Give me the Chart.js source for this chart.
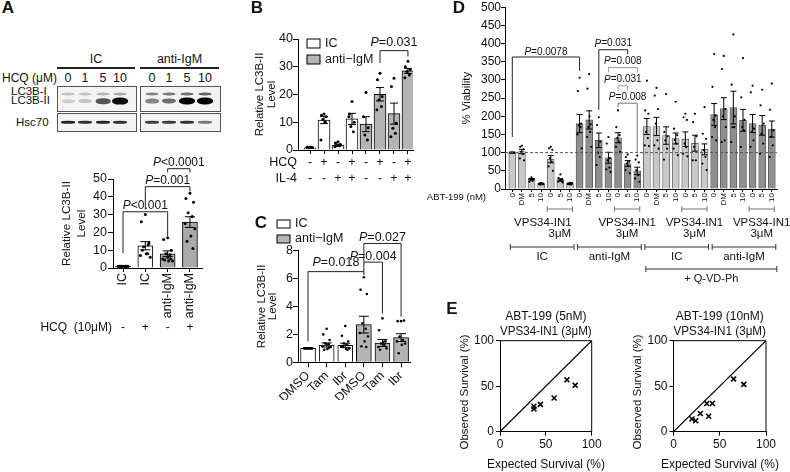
<!DOCTYPE html>
<html>
<head>
<meta charset="utf-8">
<script src="https://cdn.jsdelivr.net/npm/chart.js@4.4.1/dist/chart.umd.min.js"></script>
<style>
  body { margin: 0; background: #fff; }
  #fig { position: relative; width: 790px; height: 472px; overflow: hidden; font-family: 'Liberation Sans', Arial, sans-serif; color: #111; }
  canvas { position: absolute; }
  .lbl { position: absolute; font-size: 12px; white-space: nowrap; transform: translate(-50%, -50%); }
  .lft { position: absolute; font-size: 12px; white-space: nowrap; transform: translate(0, -50%); }
  .letter { position: absolute; font-weight: bold; font-size: 17px; transform: translate(-50%, -50%); }
  .blot { position: absolute; border: 1px solid #555; background: #f3f3f3; }
  .band { position: absolute; border-radius: 45%; filter: blur(0.7px); transform: translate(-50%, -50%); }
  .rule { position: absolute; height: 2px; background: #222; }
</style>
</head>
<body>
<div id="fig">
  <canvas id="cA" width="230" height="200" style="left:0;top:140px"></canvas>
  <canvas id="cB" width="190" height="190" style="left:230px;top:0"></canvas>
  <canvas id="cC" width="190" height="200" style="left:230px;top:200px"></canvas>
  <canvas id="cD" width="370" height="290" style="left:420px;top:0"></canvas>
  <canvas id="cE1" width="185" height="172" style="left:420px;top:300px"></canvas>
  <canvas id="cE2" width="190" height="172" style="left:600px;top:300px"></canvas>
</div>
<script>
// ---- panel A
const aLabels = ['IC', 'IC', 'anti-IgM', 'anti-IgM']
const aHcq = ['-', '+', '-', '+']
const aMeans = [0.9, 12.5, 8, 25.8]
const aSem = [0.1, 2.3, 1.6, 3]
const aDots = [
  [1, 1, 1, 1, 1, 1, 1, 1, 1, 1],
  [30, 26, 14, 12, 8, 7, 6, 8, 10, 13],
  [17, 16, 10, 8, 7.5, 5, 4, 4, 4.5, 5, 6],
  [42, 39, 37, 31, 29, 25, 22, 18, 15, 11]
]
const aBrackets = [
  { a: 0, b: 2, y: 31.6, ya: 8.4, yb: 18, text: 'P<0.001' },
  { a: 1, b: 3, y: 45.7, ya: 32.8, yb: 43, text: 'P=0.001' },
  { a: 2, b: 3, y: 55.8, ya: 53.7, yb: 53.7, text: 'P<0.0001' }
]
const blotLanes = ['0', '1', '5', '10']
const bandI = [[0.2, 0.2, 0.25, 0.3], [0.45, 0.5, 0.55, 0.6]]
const bandII = [[0.15, 0.2, 0.65, 0.95], [0.45, 0.55, 1, 1]]
const bandHsc = [[0.85, 0.8, 0.85, 0.8], [0.75, 0.75, 0.8, 0.5]]

// ---- panel B
const bLabels = ['IC', 'IC', 'IC', 'IC', 'anti-IgM', 'anti-IgM', 'anti-IgM', 'anti-IgM']
const bHcq = ['-', '+', '-', '+', '-', '+', '-', '+']
const bIl4 = ['-', '-', '+', '+', '-', '-', '+', '+']
const bMeans = [0.8, 10.8, 1.8, 11.2, 9.3, 20.1, 13.1, 28.5]
const bSem = [0.15, 1.3, 0.3, 2, 2.7, 2.4, 3.8, 0.9]
const bDots = [
  [1, 1, 0.9, 0.8, 0.9, 1],
  [13, 12.5, 12, 11, 10, 3.6],
  [3, 2.5, 2, 1.5, 1.5, 1.2],
  [17.5, 13, 10, 8.5, 6.6, 12],
  [20.7, 12, 8, 5.4, 3.6],
  [27.7, 25.3, 19.3, 18, 15.7, 14.5],
  [25.9, 22.9, 9.6, 7.8, 6, 4.8],
  [32, 30, 29, 28.3, 27, 26]
]
const bBrackets = [{ a: 5, b: 7, y: 35.8, ya: 31.3, yb: 33.7, text: 'P=0.031', dy: 8 }]

// ---- panel C
const cLabels = ['DMSO', 'Tam', 'Ibr', 'DMSO', 'Tam', 'Ibr']
const cMeans = [1.0, 1.24, 1.22, 2.7, 1.38, 1.77]
const cSem = [0.02, 0.15, 0.15, 0.6, 0.25, 0.28]
const cDots = [
  [1, 1, 1, 1, 1, 1, 1, 1, 1, 1],
  [2.4, 2.0, 1.6, 1.35, 1.3, 1.15, 1.1, 0.95, 0.9, 1.05],
  [2.6, 1.9, 1.5, 1.35, 1.25, 1.1, 1.0, 0.95, 1.1, 0.9],
  [6.1, 5.2, 4.9, 2.8, 2.4, 2.1, 1.85, 1.5, 1.15, 1.1],
  [3.15, 2.3, 1.5, 1.35, 1.25, 1.1, 1.0, 1.45, 0.9],
  [2.95, 2.95, 3.0, 1.85, 1.6, 1.5, 1.35, 1.25, 0.65]
]
const cBrackets = [
  { a: 0, b: 3, y: 6.5, ya: 1.5, yb: 6.25, text: 'P=0.018', dy: 9 },
  { a: 3, b: 4, y: 7.18, ya: 6.5, yb: 3.5, text: 'P=0.004' },
  { a: 3, b: 5, y: 8.52, ya: 7.2, yb: 3.27, text: 'P=0.027' }
]

// ---- panel D
const dLabels = ['0', 'DM', '5', '10', '0', '5', '10', '0', 'DM', '5', '10', '0', '5', '10',
  '0', 'DM', '5', '10', '0', '5', '10', '0', 'DM', '5', '10', '0', '5', '10']
const dMeans = [100, 103, 27, 15, 82, 25, 15, 180, 190, 134, 86, 141, 70, 50,
  172, 172, 147, 139, 137, 126, 109, 205, 221, 224, 189, 180, 175, 165]
const dSem = [0, 6, 2, 1, 10, 3, 1, 25, 25, 20, 15, 14, 8, 10,
  22, 25, 24, 15, 20, 22, 15, 30, 30, 45, 30, 25, 27, 22]
const dDots = [
  [100, 100, 100, 100, 100, 100, 100],
  [119, 116, 109, 102, 96, 84, 79],
  [32, 28, 26, 25, 22, 20, 27],
  [16, 14, 13, 12, 15, 14, 13],
  [116, 112, 108, 85, 75, 62, 50],
  [40, 30, 27, 24, 22, 20, 18],
  [17, 15, 14, 13, 12, 14, 16],
  [306, 269, 180, 175, 170, 150, 112],
  [316, 276, 178, 170, 157, 143, 116, 200],
  [197, 176, 130, 100, 88, 66],
  [143, 125, 85, 79, 59, 54, 47],
  [216, 170, 148, 140, 129, 116, 102],
  [95, 88, 75, 70, 63, 52, 43],
  [92, 81, 73, 52, 38, 29, 20],
  [298, 216, 207, 157, 140, 120, 118],
  [278, 257, 220, 180, 134, 120, 111],
  [261, 157, 145, 134, 111, 81],
  [240, 166, 148, 135, 125, 111, 93],
  [207, 197, 190, 125, 115, 97, 90],
  [207, 184, 145, 116, 79, 79],
  [225, 152, 138, 107, 88, 70, 52],
  [371, 281, 202, 190, 170, 143, 134],
  [366, 330, 220, 200, 134, 129, 170],
  [425, 287, 200, 170, 170, 129],
  [360, 252, 190, 170, 161, 116],
  [284, 266, 166, 157, 134, 116],
  [273, 230, 180, 152, 125, 97],
  [290, 218, 161, 143, 120, 88]
]
const dBrackets = [
  { a: 0, b: 7, y: 363, ya: 143, yb: 325, text: 'P=0.0078', dy: 5 },
  { a: 9, b: 12, y: 383, ya: 218, yb: 371, text: 'P=0.031' },
  { a: 10, b: 13, y: 334, ya: 320, yb: 320, text: 'P=0.008', color: '#999' },
  { a: 11, b: 12, y: 284, ya: 270, yb: 270, text: 'P=0.031', color: '#999' },
  { a: 11, b: 13, y: 236, ya: 225, yb: 102, text: 'P=0.008', color: '#777' }
]
const dVps = [[4, 6], [11, 13], [18, 20], [25, 27]]
const dGroups = [[0, 6, 'IC'], [7, 13, 'anti-IgM'], [14, 20, 'IC'], [21, 27, 'anti-IgM']]

// ---- panel E
const e5Exp = [37, 37, 44, 59, 73, 82]
const e5Obs = [28, 25, 30, 37, 57, 51]
const e10Exp = [20, 24, 29, 36, 42, 38, 65, 76]
const e10Obs = [14, 12, 20, 31, 31, 17, 58, 52]

const fam = "'Liberation Sans', Arial, sans-serif"
const white = '#ffffff'
const gray = '#b4b4b4'
const dLight = '#c9c9c9'
const dDark = '#8f8f8f'
const jit = [0, -0.18, 0.16, -0.08, 0.1, -0.22, 0.22, 0.04, -0.13, 0.13]

Chart.defaults.font.family = fam
Chart.defaults.color = '#111'
Chart.defaults.animation = false

function pText(ctx, text, x, y, size) {
  ctx.textBaseline = 'middle'
  ctx.textAlign = 'left'
  ctx.font = `italic ${size}px ${fam}`
  const w1 = ctx.measureText('P').width
  ctx.font = `${size}px ${fam}`
  const rest = text.slice(1)
  const w2 = ctx.measureText(rest).width
  const sx = x - (w1 + w2) / 2
  ctx.font = `italic ${size}px ${fam}`
  ctx.fillText('P', sx, y)
  ctx.font = `${size}px ${fam}`
  ctx.fillText(rest, sx + w1, y)
}

function figPlugin(o) {
  return {
    id: 'fig',
    afterDatasetsDraw(chart) {
      if (!o.sem) return
      const ctx = chart.ctx, xs = chart.scales.x, ys = chart.scales.y
      ctx.save()
      ctx.strokeStyle = '#000'
      ctx.lineWidth = 1
      o.sem.forEach((s, i) => {
        if (!s) return
        const v = o.means[i]
        const x = xs.getPixelForValue(i)
        const y1 = ys.getPixelForValue(v + s), y2 = ys.getPixelForValue(v - s)
        ctx.beginPath()
        ctx.moveTo(x, y1); ctx.lineTo(x, y2)
        ctx.moveTo(x - o.cap, y1); ctx.lineTo(x + o.cap, y1)
        ctx.moveTo(x - o.cap, y2); ctx.lineTo(x + o.cap, y2)
        ctx.stroke()
      })
      ctx.restore()
    },
    afterDraw(chart) {
      const ctx = chart.ctx, xs = chart.scales.x, ys = chart.scales.y, area = chart.chartArea
      ctx.save()
      ctx.lineWidth = 1
      if (o.dash != null) {
        const y = ys.getPixelForValue(o.dash)
        ctx.strokeStyle = '#555'
        ctx.setLineDash([3, 2])
        ctx.beginPath(); ctx.moveTo(area.left, y); ctx.lineTo(area.right, y); ctx.stroke()
        ctx.setLineDash([])
      }
      if (o.frame) {
        ctx.strokeStyle = '#000'
        ctx.beginPath()
        ctx.moveTo(area.left, area.top); ctx.lineTo(area.right, area.top); ctx.lineTo(area.right, area.bottom)
        ctx.stroke()
      }
      ;(o.brackets || []).forEach(b => {
        const xa = xs.getPixelForValue(b.a), xb = xs.getPixelForValue(b.b), y = ys.getPixelForValue(b.y)
        ctx.strokeStyle = b.color || '#222'
        ctx.beginPath()
        ctx.moveTo(xa, ys.getPixelForValue(b.ya)); ctx.lineTo(xa, y)
        ctx.lineTo(xb, y); ctx.lineTo(xb, ys.getPixelForValue(b.yb))
        ctx.stroke()
        ctx.fillStyle = '#111'
        pText(ctx, b.text, (xa + xb) / 2, y - (b.dy || 6), o.pSize)
      })
      ctx.fillStyle = '#111'
      ;(o.rows || []).forEach(r => {
        ctx.font = `${o.rowSize}px ${fam}`
        ctx.textBaseline = 'middle'
        ctx.textAlign = 'right'
        ctx.fillText(r.label, r.lx, r.y)
        ctx.textAlign = 'center'
        r.marks.forEach((m, i) => ctx.fillText(m, xs.getPixelForValue(i), r.y))
      })
      if (o.legend) {
        const L = o.legend
        L.items.forEach((it, k) => {
          const y = L.y + k * L.dy
          ctx.fillStyle = it.color
          ctx.fillRect(L.x, y, L.w, L.h)
          ctx.strokeStyle = '#000'
          ctx.strokeRect(L.x, y, L.w, L.h)
          ctx.fillStyle = '#111'
          ctx.font = `${L.size}px ${fam}`
          ctx.textAlign = 'left'
          ctx.textBaseline = 'middle'
          ctx.fillText(it.text, L.x + L.w + 5, y + L.h / 2)
        })
      }
      ;(o.spans || []).forEach(s => {
        const x1 = xs.getPixelForValue(s.a) + s.da, x2 = xs.getPixelForValue(s.b) + s.db
        ctx.strokeStyle = s.color || '#333'
        ctx.beginPath()
        ctx.moveTo(x1, s.y); ctx.lineTo(x2, s.y)
        ctx.moveTo(x1, s.y - 3); ctx.lineTo(x1, s.y + 3)
        ctx.moveTo(x2, s.y - 3); ctx.lineTo(x2, s.y + 3)
        ctx.stroke()
        ctx.fillStyle = '#111'
        ctx.font = `${s.size}px ${fam}`
        ctx.textAlign = 'center'
        ctx.textBaseline = 'middle'
        s.lines.forEach(([t, y, dx]) => ctx.fillText(t, (x1 + x2) / 2 + (dx || 0), y))
      })
      ;(o.texts || []).forEach(t => {
        ctx.save()
        ctx.fillStyle = '#111'
        ctx.font = `${t.size}px ${fam}`
        ctx.textAlign = t.align || 'center'
        ctx.textBaseline = 'middle'
        ctx.translate(t.x, t.y)
        if (t.rot) ctx.rotate(t.rot * Math.PI / 180)
        ctx.fillText(t.text, 0, 0)
        ctx.restore()
      })
      ctx.restore()
    }
  }
}

function dotData(groups) {
  const pts = []
  groups.forEach((vals, i) => vals.forEach((v, j) => pts.push({ x: i + jit[j % jit.length], y: v })))
  return pts
}

function barChart(id, o) {
  o.fig.sem = o.sem
  o.fig.means = o.means
  return new Chart(document.getElementById(id), {
    type: 'bar',
    data: {
      datasets: [{
        data: o.means.map((v, i) => ({ x: i, y: v })),
        backgroundColor: o.colors,
        borderColor: o.edge || '#000',
        borderWidth: o.bw || 1,
        barThickness: o.barW
      }, {
        type: 'scatter',
        data: dotData(o.dots),
        order: -1,
        pointRadius: o.dotR,
        backgroundColor: '#000',
        borderWidth: 0,
        clip: false
      }]
    },
    options: {
      responsive: false,
      events: [],
      layout: { padding: o.pad },
      plugins: { legend: { display: false }, tooltip: { enabled: false } },
      scales: {
        x: {
          type: 'linear', offset: false, min: o.xMin, max: o.xMax,
          afterBuildTicks: s => { s.ticks = o.labels.map((l, i) => ({ value: i })) },
          grid: { offset: false, drawOnChartArea: false, tickLength: o.xTick, color: '#000' },
          border: { color: '#000' },
          ticks: {
            display: o.rot != null, autoSkip: false, minRotation: o.rot || 0, maxRotation: o.rot || 0,
            padding: 1, color: '#111', font: { size: o.xFont }, callback: v => o.labels[v]
          },
          afterFit: s => { s.height = o.xH }
        },
        y: {
          min: 0, max: o.yMax,
          ticks: { stepSize: o.step, autoSkip: false, padding: o.yPad, color: '#111', font: { size: o.yFont } },
          grid: { drawOnChartArea: false, tickLength: o.yTick, color: '#000' },
          border: { color: '#000' },
          title: {
            display: true, text: o.yTitle, color: '#111',
            font: { size: o.tSize, lineHeight: o.tLh }, padding: { top: o.tPad, bottom: 0 }
          },
          afterFit: s => { s.width = o.yW }
        }
      }
    },
    plugins: [figPlugin(o.fig)]
  })
}

barChart('cA', {
  labels: aLabels, means: aMeans, sem: aSem, dots: aDots, colors: [white, white, '#aaaaaa', '#aaaaaa'],
  xMin: -0.45, xMax: 3.54, yMax: 50, step: 10, barW: 15, dotR: 1.5,
  pad: { left: 55, top: 39, right: 28, bottom: 0 }, yW: 58, xH: 72,
  rot: 90, xFont: 12.5, xTick: 4, yFont: 12.5, yTick: 5, yPad: 1,
  yTitle: ['Relative LC3B-II', 'Level'], tSize: 11.7, tLh: 1.33, tPad: 3.9,
  fig: {
    cap: 5, brackets: aBrackets, pSize: 12, rowSize: 12,
    rows: [{ label: 'HCQ  (10μM)', marks: aHcq, lx: 112, y: 188 }]
  }
})

barChart('cB', {
  labels: bLabels, means: bMeans, sem: bSem, dots: bDots, colors: [white, white, white, white, gray, gray, gray, gray],
  xMin: -0.86, xMax: 7.36, yMax: 40, step: 10, barW: 12, dotR: 1.5,
  pad: { left: 22, top: 39, right: 7, bottom: 0 }, yW: 46, xH: 40,
  xTick: 4, yFont: 12.5, yTick: 5, yPad: 0,
  yTitle: ['Relative LC3B-II', 'Level'], tSize: 11.5, tLh: 1.02, tPad: 2.2,
  fig: {
    cap: 4, brackets: bBrackets, pSize: 12.5, rowSize: 12.5,
    rows: [{ label: 'HCQ', marks: bHcq, lx: 67, y: 163 }, { label: 'IL-4', marks: bIl4, lx: 67, y: 179 }],
    legend: { x: 77, y: 39, dy: 16, w: 13, h: 9, size: 12.5, items: [{ text: 'IC', color: white }, { text: 'anti−IgM', color: gray }] }
  }
})

barChart('cC', {
  labels: cLabels, means: cMeans, sem: cSem, dots: cDots, colors: [white, white, white, gray, gray, gray],
  xMin: -0.54, xMax: 5.48, yMax: 8, step: 2, barW: 15, dotR: 1.3,
  pad: { left: 22, top: 50.7, right: 10, bottom: 0 }, yW: 46, xH: 37.7,
  rot: 45, xFont: 12.5, xTick: 5, yFont: 12.5, yTick: 5, yPad: 0,
  yTitle: ['Relative LC3B-II', 'Level'], tSize: 11.5, tLh: 1.02, tPad: 3.5,
  fig: {
    cap: 5, brackets: cBrackets, pSize: 12.5,
    legend: { x: 47, y: 20, dy: 15, w: 13, h: 8, size: 12.5, items: [{ text: 'IC', color: white }, { text: 'anti−IgM', color: gray }] }
  }
})

barChart('cD', {
  labels: dLabels, means: dMeans, sem: dSem, dots: dDots,
  colors: dLabels.map((l, i) => Math.floor(i / 7) % 2 ? dDark : dLight), edge: '#555', bw: 0.8,
  xMin: -0.76, xMax: 27.54, yMax: 500, step: 50, barW: 7, dotR: 1.1,
  pad: { left: 38, top: 6, right: 13, bottom: 0 }, yW: 47, xH: 101,
  rot: 90, xFont: 8, xTick: 3, yFont: 12, yTick: 4, yPad: 0,
  yTitle: '% Viability', tSize: 11.5, tLh: 1.2, tPad: 1.8,
  fig: {
    cap: 3, dash: 100, brackets: dBrackets, pSize: 10,
    texts: [{ text: 'ABT-199 (nM)', x: 66, y: 197, size: 9.5, align: 'right' }],
    spans: [
      ...dVps.map(([a, b], k) => ({ a, b, y: 209, da: -3.5, db: 2.5, size: 11.5, color: '#777',
        lines: [['VPS34-IN1', 223, k ? 0 : -17], ['3μM', 234]] })),
      ...dGroups.map(([a, b, t]) => ({ a, b, y: 247, da: -2, db: 4, size: 11.5, lines: [[t, 257]] })),
      { a: 14, b: 27, y: 269, da: -1, db: 5, size: 11, lines: [['+ Q-VD-Ph', 279]] }
    ]
  }
})

function survChart(id, o) {
  return new Chart(document.getElementById(id), {
    type: 'scatter',
    data: {
      datasets: [{
        data: o.exp.map((x, i) => ({ x, y: o.obs[i] })),
        pointStyle: 'crossRot', pointRadius: 3.5, borderColor: '#000', borderWidth: 1.6, backgroundColor: '#000'
      }, {
        type: 'line', data: [{ x: 0, y: 0 }, { x: 100, y: 100 }],
        borderColor: '#000', borderWidth: 1.2, pointRadius: 0
      }]
    },
    options: {
      responsive: false,
      events: [],
      layout: { padding: o.pad },
      plugins: {
        legend: { display: false }, tooltip: { enabled: false },
        title: {
          display: true, fullSize: false, text: o.title, color: '#111',
          font: { size: 12, weight: 'normal', lineHeight: 1.25 }, padding: { top: 0, bottom: 1.2 }
        }
      },
      scales: {
        x: {
          min: 0, max: 100, ticks: { stepSize: 50, padding: 2, color: '#111', font: { size: 12 } },
          grid: { drawOnChartArea: false, tickLength: 4, color: '#000' }, border: { color: '#000' },
          afterFit: s => { s.height = 40.3 }
        },
        y: {
          min: 0, max: 100, ticks: { stepSize: 50, padding: 2, color: '#111', font: { size: 12 } },
          grid: { drawOnChartArea: false, tickLength: 4, color: '#000' }, border: { color: '#000' },
          afterFit: s => { s.width = o.yW }
        }
      }
    },
    plugins: [figPlugin({
      frame: true,
      texts: [
        { text: 'Expected Survival (%)', x: o.xt, y: 165, size: 12 },
        { text: 'Observed Survival (%)', x: o.yt, y: 92, size: 11.5, rot: -90 }
      ]
    })]
  })
}

survChart('cE1', { exp: e5Exp, obs: e5Obs, title: ['ABT-199 (5nM)', 'VPS34-IN1 (3μM)'], pad: { left: 30, top: 9.5, right: 13.3, bottom: 0 }, yW: 50, xt: 126, yt: 45 })
survChart('cE2', { exp: e10Exp, obs: e10Obs, title: ['ABT-199 (10nM)', 'VPS34-IN1 (3μM)'], pad: { left: 23, top: 9.5, right: 24, bottom: 0 }, yW: 50.5, xt: 120, yt: 38 })

// ---- western blot and panel letters
const fig = document.getElementById('fig')
function add(cls, css, text) {
  const el = document.createElement('div')
  el.className = cls
  el.style.cssText = css
  if (text != null) el.textContent = text
  fig.appendChild(el)
  return el
}
const blots = [
  { left: 57, w: 78, lanes: [68, 85, 103, 120], title: 'IC' },
  { left: 140, w: 79, lanes: [152, 169, 187, 205], title: 'anti-IgM' }
]
blots.forEach((b, k) => {
  add('lbl', `left:${b.left + b.w / 2}px;top:59px;font-size:12.5px`, b.title)
  add('rule', `left:${b.left}px;top:67px;width:${b.w}px`)
  add('blot', `left:${b.left}px;top:86px;width:${b.w}px;height:24px`)
  add('blot', `left:${b.left}px;top:113px;width:${b.w}px;height:17px`)
  b.lanes.forEach((x, i) => {
    add('lbl', `left:${x}px;top:78px;font-size:12.5px`, blotLanes[i])
    const v1 = bandI[k][i], v2 = bandII[k][i], v3 = bandHsc[k][i]
    add('band', `left:${x}px;top:94px;width:13px;height:3px;background:rgba(0,0,0,${v1})`)
    add('band', `left:${x}px;top:101px;width:${12 + 4 * v2}px;height:${3 + 4 * v2}px;background:rgba(0,0,0,${v2})`)
    add('band', `left:${x}px;top:122px;width:14px;height:2.5px;background:rgba(0,0,0,${v3})`)
  })
})
add('lft', 'left:2px;top:78px;font-size:12px', 'HCQ (μM)')
add('lft', 'left:11px;top:91px;font-size:11.5px', 'LC3B-I')
add('lft', 'left:11px;top:100px;font-size:11.5px', 'LC3B-II')
add('lft', 'left:16px;top:122px;font-size:11.5px', 'Hsc70')
add('letter', 'left:8px;top:8px', 'A')
add('letter', 'left:257px;top:8px', 'B')
add('letter', 'left:261px;top:223px', 'C')
add('letter', 'left:459px;top:8px', 'D')
add('letter', 'left:452px;top:309px', 'E')
</script>
</body>
</html>
